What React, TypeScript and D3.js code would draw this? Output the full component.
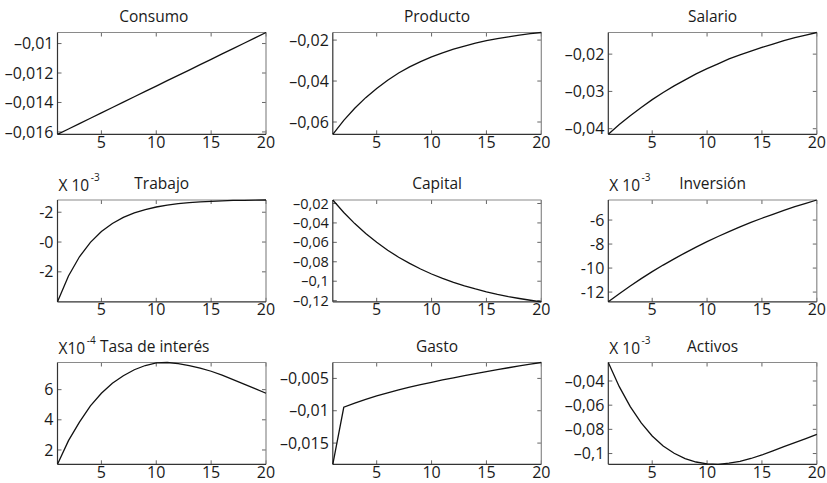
import React from "react";
import * as d3 from "d3";

// periods on the x axis
const periods = [1, 2, 3, 4, 5, 6, 7, 8, 9, 10, 11, 12, 13, 14, 15, 16, 17, 18, 19, 20];
const xTicks = [5, 10, 15, 20];

// impulse responses
const consumo = [-0.01616, -0.0158, -0.01543, -0.01507, -0.01471, -0.01434, -0.01398, -0.01361, -0.01325, -0.01289,
  -0.01252, -0.01216, -0.0118, -0.01143, -0.01107, -0.0107, -0.01034, -0.00998, -0.00961, -0.00925];
const producto = [-0.066, -0.0592, -0.0533, -0.0481, -0.0436, -0.0396, -0.0361, -0.0331, -0.0305, -0.0282,
  -0.0262, -0.0244, -0.0229, -0.0215, -0.0203, -0.0193, -0.0184, -0.0176, -0.0169, -0.0163];
const salario = [-0.0415, -0.0389, -0.0365, -0.0343, -0.0322, -0.0303, -0.0285, -0.0269, -0.0253, -0.0239,
  -0.0226, -0.0213, -0.0202, -0.0192, -0.0182, -0.0173, -0.0164, -0.0156, -0.0149, -0.0142];
// x 10^-3
const trabajo = [-8.01, -6.28, -4.99, -4.02, -3.3, -2.76, -2.35, -2.05, -1.82, -1.65,
  -1.53, -1.43, -1.36, -1.31, -1.27, -1.24, -1.21, -1.2, -1.19, -1.18];
const capital = [-0.0164, -0.0292, -0.0407, -0.0509, -0.0599, -0.0681, -0.0753, -0.0817, -0.0874, -0.0926,
  -0.0971, -0.1012, -0.1048, -0.108, -0.1109, -0.1135, -0.1158, -0.1178, -0.1196, -0.1212];
// x 10^-3
const inversion = [-12.81, -12.14, -11.49, -10.88, -10.3, -9.75, -9.23, -8.73, -8.25, -7.8,
  -7.37, -6.96, -6.57, -6.2, -5.85, -5.52, -5.2, -4.89, -4.61, -4.33];
// x 10^-4
const tasa = [1.05, 2.62, 3.85, 4.93, 5.76, 6.42, 6.92, 7.32, 7.6, 7.78,
  7.8, 7.72, 7.6, 7.43, 7.22, 6.96, 6.67, 6.37, 6.07, 5.76];
const gasto = [-0.01828, -0.00946, -0.00882, -0.00824, -0.00771, -0.00723, -0.00678, -0.00636, -0.00597, -0.0056,
  -0.00524, -0.0049, -0.00457, -0.00425, -0.00394, -0.00364, -0.00335, -0.00307, -0.0028, -0.00254];
const activos = [-0.0247, -0.0447, -0.0612, -0.0747, -0.0855, -0.0938, -0.0998, -0.1042, -0.107, -0.1085,
  -0.1089, -0.108, -0.1064, -0.1041, -0.1012, -0.0978, -0.0943, -0.0909, -0.0876, -0.0842];

// y ticks and the labels printed next to them
const consumoTicks = [-0.01, -0.012, -0.014, -0.016];
const consumoLabels = ["–0,01", "–0,012", "–0,014", "–0,016"];
const productoTicks = [-0.02, -0.04, -0.06];
const productoLabels = ["–0,02", "–0,04", "–0,06"];
const salarioTicks = [-0.02, -0.03, -0.04];
const salarioLabels = ["–0,02", "–0,03", "–0,04"];
const trabajoTicks = [-2, -4, -6];
const trabajoLabels = ["-2", "-0", "-2"];
const capitalTicks = [-0.02, -0.04, -0.06, -0.08, -0.1, -0.12];
const capitalLabels = ["–0,02", "–0,04", "–0,06", "–0,08", "–0,1", "–0,12"];
const inversionTicks = [-6, -8, -10, -12];
const inversionLabels = ["-6", "-8", "-10", "-12"];
const tasaTicks = [6, 4, 2];
const tasaLabels = ["6", "4", "2"];
const gastoTicks = [-0.005, -0.01, -0.015];
const gastoLabels = ["–0,005", "–0,01", "–0,015"];
const activosTicks = [-0.04, -0.06, -0.08, -0.1];
const activosLabels = ["–0,04", "–0,06", "–0,08", "–0,1"];

const panels = [
  { title: "Consumo", values: consumo, ticks: consumoTicks, labels: consumoLabels },
  { title: "Producto", values: producto, ticks: productoTicks, labels: productoLabels },
  { title: "Salario", values: salario, ticks: salarioTicks, labels: salarioLabels },
  { title: "Trabajo", values: trabajo, ticks: trabajoTicks, labels: trabajoLabels, exp: "-3", expText: "X 10" },
  { title: "Capital", values: capital, ticks: capitalTicks, labels: capitalLabels },
  { title: "Inversión", values: inversion, ticks: inversionTicks, labels: inversionLabels, exp: "-3", expText: "X 10" },
  { title: "Tasa de interés", values: tasa, ticks: tasaTicks, labels: tasaLabels, exp: "-4", expText: "X10" },
  { title: "Gasto", values: gasto, ticks: gastoTicks, labels: gastoLabels },
  { title: "Activos", values: activos, ticks: activosTicks, labels: activosLabels, exp: "-3", expText: "X 10" },
];

// layout
const colX = [57.5, 332.8, 608.3];
const rowY = [32.5, 200, 362.5];
const W = 208.5;
const H = 101.8;
const titleShift: Record<string, number> = { "Consumo": -8, "Tasa de interés": -7 };
const FONT = "'Open Sans', 'DejaVu Sans', sans-serif";
const TL = 4;

const Panel = ({ p, left, top }) => {
  const x = d3.scaleLinear().domain([1, 20]).range([0, W]);
  const y = d3.scaleLinear().domain(d3.extent(p.values) as [number, number]).range([H, 0]);
  const line = d3.line<number>().x((d, i) => x(periods[i])).y(d => y(d));
  // crowded axis (Capital) gets slightly smaller labels
  const ySize = p.ticks.length > 4 ? 14.5 : 16;

  return (
    <g transform={`translate(${left},${top})`}>
      {/* ticks inward, all four sides */}
      {xTicks.map(t => (
        <g key={"x" + t} stroke="#666" strokeWidth={1}>
          <line x1={x(t)} x2={x(t)} y1={0} y2={TL} />
          <line x1={x(t)} x2={x(t)} y1={H} y2={H - TL} />
        </g>
      ))}
      {p.ticks.map(t => (
        <g key={"y" + t} stroke="#666" strokeWidth={1}>
          <line x1={0} x2={TL} y1={y(t)} y2={y(t)} />
          <line x1={W} x2={W - TL} y1={y(t)} y2={y(t)} />
        </g>
      ))}
      {/* box: top/right lighter like the original */}
      <line x1={0} x2={W} y1={0} y2={0} stroke="#8a8a8a" strokeWidth={1.2} />
      <line x1={W} x2={W} y1={0} y2={H} stroke="#8a8a8a" strokeWidth={1.2} />
      <line x1={0} x2={0} y1={0} y2={H} stroke="#333" strokeWidth={1.2} />
      <line x1={0} x2={W} y1={H} y2={H} stroke="#333" strokeWidth={1.2} />

      <path d={line(p.values) ?? ""} fill="none" stroke="#111" strokeWidth={1.3} />

      {xTicks.map(t => (
        <text key={"xl" + t} x={x(t)} y={H + 13.6} textAnchor="middle" fontSize={16} fill="#1a1a1a">{t}</text>
      ))}
      {p.ticks.map((t, i) => (
        <text key={"yl" + t} x={-4} y={y(t)} dy="0.35em" textAnchor="end" fontSize={ySize} fill="#1a1a1a">{p.labels[i]}</text>
      ))}

      <text x={W / 2 + (titleShift[p.title] ?? 0)} y={-11} textAnchor="middle" fontSize={15.5} fill="#1a1a1a">{p.title}</text>
      {p.exp && (
        <text x={1} y={-9} fontSize={15.5} fill="#1a1a1a">
          {p.expText}
          <tspan dx={1.5} dy={-10} fontSize={10}>{p.exp}</tspan>
        </text>
      )}
    </g>
  );
};

export default function App() {
  return (
    <svg width={827} height={483} style={{ position: "absolute", left: 0, top: 0, background: "#fff" }}
      fontFamily={FONT}>
      {panels.map((p, i) => (
        <Panel key={p.title} p={p} left={colX[i % 3]} top={rowY[Math.floor(i / 3)]} />
      ))}
    </svg>
  );
}
